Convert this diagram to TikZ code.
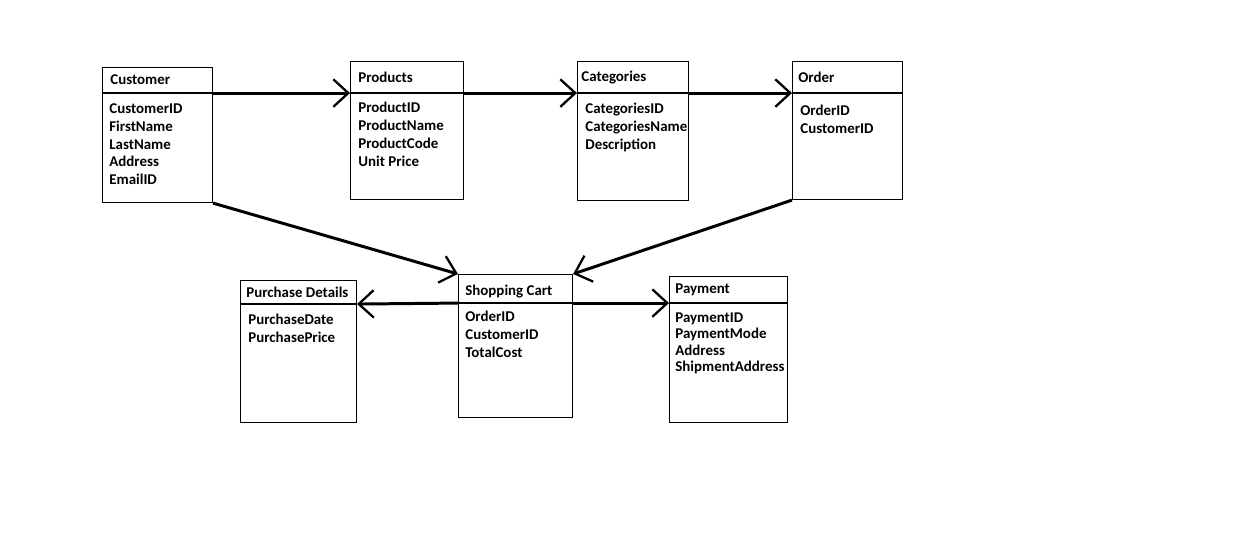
\documentclass[tikz,border=0pt]{standalone}
\usepackage{fontspec}
\setmainfont{Carlito}
\usetikzlibrary{arrows.meta,positioning}

\tikzset{
  box/.style 2 args={draw, line width=0.6pt, anchor=north west, inner sep=0pt,
    minimum width=#1*0.02cm, minimum height=#2*0.02cm},
  title/.style={inner sep=0pt, font=\fontsize{8.5}{10.2}\selectfont\bfseries},
  fields/.style={inner sep=0pt, align=left, font=\fontsize{8.5}{10.2}\selectfont\bfseries},
  link/.style={line width=1.7pt, -{Straight Barb[length=0.3cm, width=0.55cm, line width=1.3pt]}}
}

\begin{document}
\begin{tikzpicture}[x=0.02cm, y=-0.02cm]
  \useasboundingbox[fill=white] (0,0) rectangle (1250,545);
  % top row
  \node[box={110}{25}] (custT) at (102,67) {};
  \node[box={110}{109}] (custB) at (custT.south west) {};
  \node[title, right=0.16cm of custT.west] (custN) {Customer};
  \node[fields, below right=0.2cm and 0.14cm of custB.north west] (custF) {CustomerID\\FirstName\\LastName\\Address\\EmailID};

  \node[box={113}{31}] (prodT) at (350,61) {};
  \node[box={113}{106}] (prodB) at (prodT.south west) {};
  \node[title, right=0.16cm of prodT.west] (prodN) {Products};
  \node[fields, below right=0.18cm and 0.16cm of prodB.north west] (prodF) {ProductID\\ProductName\\ProductCode\\Unit Price};

  \node[box={111}{31}] (catT) at (577,61) {};
  \node[box={111}{107}] (catB) at (catT.south west) {};
  \node[title, right=0.08cm of catT.west] (catN) {Categories};
  \node[fields, below right=0.2cm and 0.16cm of catB.north west] (catF) {CategoriesID\\CategoriesName\\Description};

  \node[box={110}{31}] (ordT) at (792,61) {};
  \node[box={110}{106}] (ordB) at (ordT.south west) {};
  \node[title, right=0.12cm of ordT.west] (ordN) {Order};
  \node[fields, below right=0.24cm and 0.16cm of ordB.north west] (ordF) {OrderID\\CustomerID};

  % bottom row
  \node[box={116}{23}] (purT) at (240,280) {};
  \node[box={116}{118}] (purB) at (purT.south west) {};
  \node[title, right=0.12cm of purT.west] (purN) {Purchase Details};
  \node[fields, below right=0.2cm and 0.16cm of purB.north west] (purF) {PurchaseDate\\PurchasePrice};

  \node[box={114}{28}] (cartT) at (458,274) {};
  \node[box={114}{114}] (cartB) at (cartT.south west) {};
  \node[title, right=0.14cm of cartT.west, yshift=-0.05cm] (cartN) {Shopping Cart};
  \node[fields, below right=0.16cm and 0.14cm of cartB.north west] (cartF) {OrderID\\CustomerID\\TotalCost};

  \node[box={118}{26}] (payT) at (669,276) {};
  \node[box={118}{119}] (payB) at (payT.south west) {};
  \node[title, right=0.12cm of payT.west] (payN) {Payment};
  \node[fields, below right=0.18cm and 0.12cm of payB.north west, font=\fontsize{8.5}{9.4}\selectfont\bfseries] (payF) {PaymentID\\PaymentMode\\Address\\ShipmentAddress};

  % links
  \draw[link] (custT.south east) -- (prodT.south west);
  \draw[link] (prodT.south east) -- (catT.south west);
  \draw[link] (catT.south east) -- (ordT.south west);
  \draw[link] (custB.south east) -- (cartT.north west);
  \draw[link] (ordB.south west) -- (cartT.north east);
  \draw[link] (cartT.south west) -- (purT.south east);
  \draw[link] (cartT.south east) -- (payT.south west);
\end{tikzpicture}
\end{document}
